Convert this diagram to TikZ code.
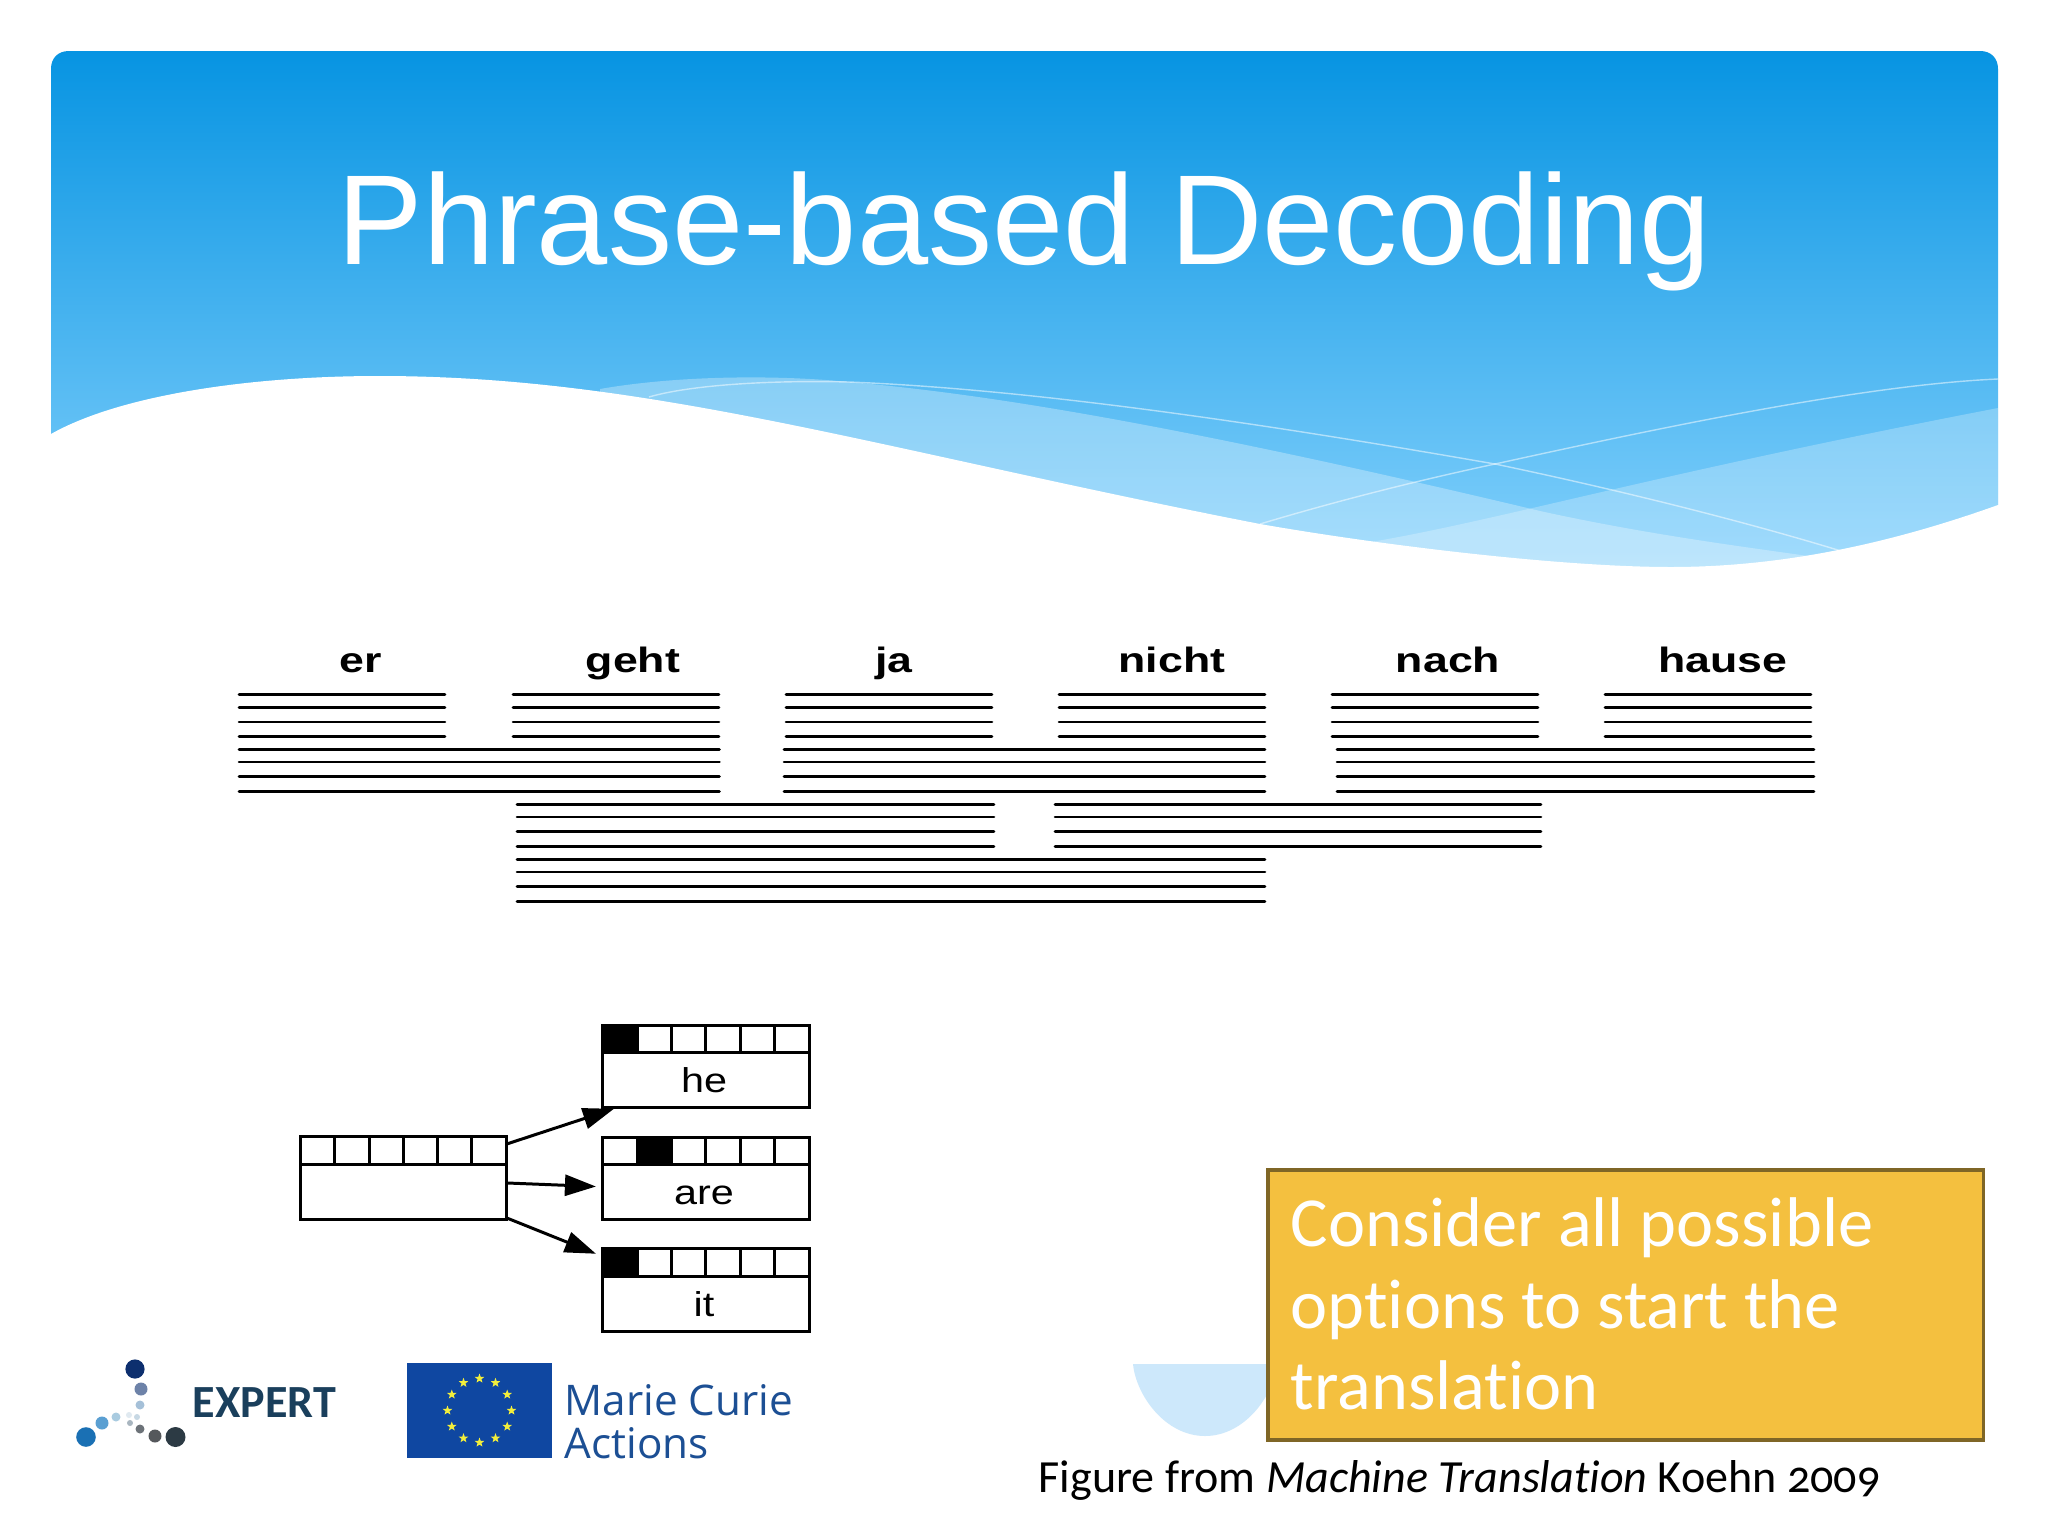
\documentclass[tikz,border=0pt]{standalone}
\usepackage{fontspec}
\usepackage{xcolor}
\usetikzlibrary{arrows.meta}
\usetikzlibrary{calc}
\usetikzlibrary{shapes.geometric}
\setmainfont{Carlito}[Ligatures=NoCommon]
\newfontfamily\titlefont{Liberation Sans}
\newfontfamily\wordfont[FakeStretch=1.27]{Liberation Sans}
\newfontfamily\glossfont[FakeStretch=1.2]{Liberation Sans}
\newfontfamily\logofont{Open Sans}
\definecolor{qtop}{RGB}{7,148,226}
\definecolor{qlow}{RGB}{130,208,252}
\definecolor{qbowl}{RGB}{205,232,251}
\definecolor{qamber}{RGB}{244,192,63}
\definecolor{qedge}{RGB}{127,102,38}
\definecolor{qflag}{RGB}{15,71,161}
\definecolor{qstar}{RGB}{242,238,60}
\definecolor{qmarie}{RGB}{28,79,148}
\definecolor{qexpert}{RGB}{26,63,92}
\tikzset{
  wordlabel/.style={anchor=base,font=\wordfont\bfseries\fontsize{10}{12}\selectfont},
  glosslabel/.style={anchor=base,font=\glossfont\fontsize{9.8}{11}\selectfont},
  bar/.style={line width=0.75pt,line cap=round},
  statebox/.style={draw,line width=0.85pt,inner sep=0,outer sep=0,minimum width=2.06cm,minimum height=0.825cm},
  hoparrow/.style={line width=0.85pt,-{Triangle[length=3.1mm,width=2.1mm]}},
  eustar/.style={star,star points=5,star point ratio=2.4,fill=qstar,inner sep=0,minimum size=0.1cm},
  thinline/.style={white,opacity=0.5,line width=0.4pt},
}
\begin{document}
\begin{tikzpicture}[x=0.01cm,y=-0.01cm]

\useasboundingbox[fill=white] (0,0) rectangle (2048,1536);

%banner:
\path[top color=qtop,bottom color=qlow]
  (51,567) -- (51,69) .. controls (51,58) and (58,51) .. (69,51) -- (1980,51)
  .. controls (1991,51) and (1998,58) .. (1998,69) -- (1998,567) -- cycle;
%waves, light part:
\fill[white,opacity=0.3] (600,389) .. controls (680,375) and (780,375) .. (849,382)
  .. controls (1000,395) and (1200,430) .. (1540,511)
  .. controls (1640,533) and (1730,545) .. (1808,556) -- (1808,600) -- (600,600) -- cycle;
\fill[white,opacity=0.25] (1371,542) .. controls (1500,520) and (1650,475) .. (1998,408) -- (1998,600) -- (1371,600) -- cycle;
%thin lines:
\draw[thinline] (649,397) .. controls (690,385) and (770,380) .. (849,382)
  .. controls (1050,390) and (1300,430) .. (1495,464) .. controls (1610,488) and (1740,520) .. (1841,551);
\draw[thinline] (1260,524) .. controls (1340,500) and (1420,480) .. (1495,464)
  .. controls (1650,430) and (1860,385) .. (1998,379);
%white below the wave:
\fill[white] (51,434) .. controls (120,395) and (250,376) .. (379,376)
  .. controls (650,376) and (880,450) .. (1260,524)
  .. controls (1380,545) and (1560,567) .. (1671,567)
  .. controls (1790,567) and (1900,540) .. (1998,505) -- (2010,505) -- (2010,610) -- (40,610) -- (40,434) -- cycle;

\node[anchor=base,text=white,font=\titlefont\fontsize{36.4}{40}\selectfont] (title) at (1024.5,264) {Phrase-based Decoding};

%source words:
\foreach \nm/\wx in {er/361,geht/633,ja/894,nicht/1172,nach/1448,hause/1723}
  \node[wordlabel] (\nm) at (\wx,672) {\nm};

%phrase options:
\foreach \xa/\xb/\ya in {238/446/694.7,512/720/694.7,785/993/694.7,1058/1266/694.7,1331/1539/694.7,1604/1812/694.7,
  238/720.5/749.3,783/1266/749.3,1336/1815/749.3,516/995/804.3,1054/1542/804.3,516/1266/859.3}
  \foreach \dy in {0,12.6,27.3,42}
    \draw[bar] (\xa+1,\ya+\dy) -- (\xb-1,\ya+\dy);

%hypotheses:
\foreach \nm/\cx/\cy/\txt in {hypNone/403.5/1178/{},hypHe/706/1066.5/he,hypAre/706/1178.5/are,hypIt/706/1290/it}{
  \node[statebox] (\nm) at (\cx,\cy) {};
  \draw[line width=0.85pt] ($(\nm.north west)+(0,27.5)$) -- ($(\nm.north east)+(0,27.5)$);
  \foreach \c in {1,...,5}
    \draw[line width=0.85pt] ($(\nm.north west)+(\c*34.3,0)$) -- ($(\nm.north west)+(\c*34.3,27.5)$);
  \node[glosslabel] (\nm Text) at ($(\nm.south)+(-2,-15)$) {\txt};
}
\foreach \nm/\c in {hypHe/0,hypAre/1,hypIt/0}
  \fill ($(\nm.north west)+(\c*34.3,0)$) rectangle ($(\nm.north west)+(\c*34.3+35,27.5)$);

\draw[hoparrow] ([shift={(1,7)}]hypNone.north east) -- ([shift={(11,1)}]hypHe.south west);
\draw[hoparrow] ([shift={(1,5)}]hypNone.east) -- ([shift={(-7,8)}]hypAre.west);
\draw[hoparrow] ([shift={(1,-1)}]hypNone.south east) -- ([shift={(-7,5)}]hypIt.north west);

%logo dots:
\foreach \px/\py/\pr/\pc in {135/1369/9.6/{13,47,110},141/1389/6.5/{109,130,168},140/1405/4.5/{165,192,216},
  137/1417/3/{199,216,228},129/1415/3/{224,233,240},130/1423/3/{169,182,192},140/1429/4.5/{108,114,120},
  155/1436/6.5/{85,88,92},175.5/1437/10/{44,58,68},86/1437/9.8/{26,112,180},102/1423/6.5/{90,159,210},116/1417/4.5/{169,203,224}}{
  \definecolor{dotcol}{RGB}{\pc}
  \fill[dotcol] (\px,\py) circle(\pr*0.01cm);
}
\node[anchor=base west,inner sep=0,text=qexpert,font=\bfseries\fontsize{13.1}{14}\selectfont] (expert) at (192,1417) {EXPERT};

%flag:
\fill[qflag] (407,1363) rectangle (551.5,1458);
\foreach \a in {0,30,...,330}
  \node[eustar] (star\a) at ($(479.5,1410.5)+(\a:32)$) {};
\node[anchor=base west,inner sep=0,text=qmarie,font=\logofont\fontsize{12}{14}\selectfont] (marie) at (564,1415) {Marie Curie};
\node[anchor=base west,inner sep=0,text=qmarie,font=\logofont\fontsize{12}{14}\selectfont] (actions) at (564,1458) {Actions};

%bowl behind the note:
\fill[qbowl] (1133,1364) .. controls (1136,1395) and (1165,1436) .. (1205,1436) .. controls (1245,1436) and (1274,1395) .. (1277,1364) -- cycle;

%note:
\node[anchor=north west,draw=qedge,fill=qamber,line width=1pt,inner sep=0,outer sep=0,minimum width=7.15cm,minimum height=2.7cm] (note) at (1268,1170) {};
\node[anchor=base west,inner sep=0,text=white,font=\fontsize{20}{23.2}\selectfont] (noteA) at (1290,1246) {Consider all possible};
\node[anchor=base west,inner sep=0,text=white,font=\fontsize{20}{23.2}\selectfont] (noteB) at (1290,1328) {options to start the};
\node[anchor=base west,inner sep=0,text=white,font=\fontsize{20}{23.2}\selectfont] (noteC) at (1290,1409) {translation};

\node[anchor=base west,inner sep=0,font=\addfontfeatures{Numbers=OldStyle}\fontsize{13.1}{15}\selectfont] (source) at (1038,1492) {Figure from \textit{Machine Translation} Koehn 2009};

\end{tikzpicture}
\end{document}
